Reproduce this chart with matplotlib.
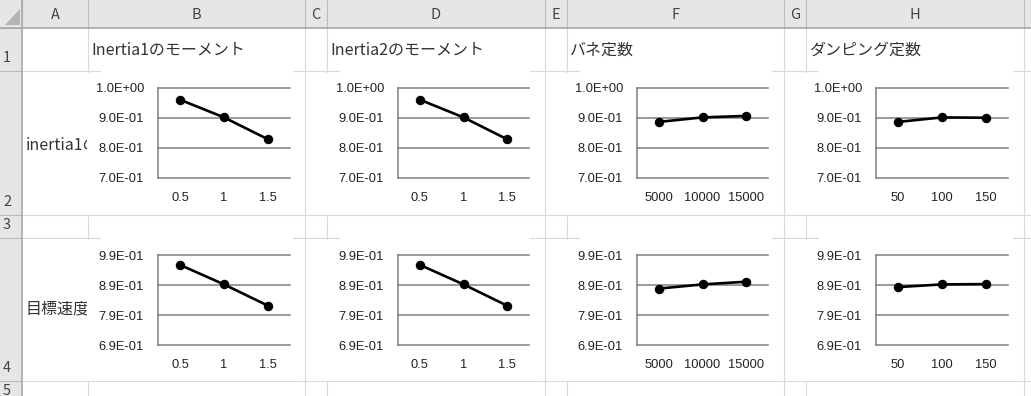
import matplotlib
matplotlib.use('Agg')
import matplotlib.pyplot as plt
from matplotlib.patches import Rectangle, Polygon

W, H = 1031, 396

# sheet layout (pixels)
col_names = ['A', 'B', 'C', 'D', 'E', 'F', 'G', 'H']
col_edges = [22, 88, 305, 327, 545, 567, 784, 806, 1024]
row_names = ['1', '2', '3', '4', '5']
row_edges = [28, 71, 215, 238, 381, 404]

# cell texts
param_titles = ['Inertia1のモーメント', 'Inertia2のモーメント', 'バネ定数', 'ダンピング定数']
row_titles = ['inertia1の', '目標速度']

# x categories of each chart column
inertia_levels = ['0.5', '1', '1.5']
spring_levels = ['5000', '10000', '15000']
damping_levels = ['50', '100', '150']
x_levels = [inertia_levels, inertia_levels, spring_levels, damping_levels]

# row 2 (inertia1) responses
r2_inertia1 = [0.961, 0.902, 0.829]
r2_inertia2 = [0.961, 0.902, 0.829]
r2_spring = [0.887, 0.902, 0.907]
r2_damping = [0.887, 0.902, 0.901]
# row 4 (目標速度) responses
r4_inertia1 = [0.957, 0.892, 0.821]
r4_inertia2 = [0.957, 0.892, 0.821]
r4_spring = [0.878, 0.892, 0.901]
r4_damping = [0.883, 0.892, 0.893]

row2_ticks = [0.70, 0.80, 0.90, 1.00]
row4_ticks = [0.69, 0.79, 0.89, 0.99]

series = [[r2_inertia1, r2_inertia2, r2_spring, r2_damping],
          [r4_inertia1, r4_inertia2, r4_spring, r4_damping]]
yticks = [row2_ticks, row4_ticks]

# chart placement (pixels)
chart_x = [(88, 300), (327, 537), (567, 779), (806, 1020)]
chart_y = [(72, 214), (239, 380)]
plot_x = [(158, 290), (398, 529), (637, 768), (876, 1008)]
plot_y = [(88, 178), (255, 345)]

cjk = ['Noto Sans CJK JP', 'DejaVu Sans']
grid_c = '#dadada'
head_bg = '#e6e6e6'
head_line = '#bcbcbc'

fig = plt.figure(figsize=(W / 100, H / 100), dpi=100)
bg = fig.add_axes([0, 0, 1, 1])
bg.set_xlim(0, W)
bg.set_ylim(H, 0)
bg.axis('off')

# headers
bg.add_patch(Rectangle((0, 0), W, 28, fc=head_bg, ec='none', zorder=1))
bg.add_patch(Rectangle((0, 0), 22, H, fc=head_bg, ec='none', zorder=1))
bg.add_patch(Polygon([(5, 25), (20, 25), (20, 9)], closed=True, fc='#b4b4b4', ec='none', zorder=2))
for i, name in enumerate(col_names):
    x0, x1 = col_edges[i], col_edges[i + 1]
    bg.text((x0 + x1) / 2, 15, name, ha='center', va='center', fontsize=10.5,
            color='#444444', family=cjk, zorder=3)
for x in col_edges:
    bg.plot([x, x], [0, 28], color=head_line, lw=0.8, zorder=2)
for i, name in enumerate(row_names):
    y1 = row_edges[i + 1]
    bg.text(3, y1 - 13, name, ha='left', va='center', fontsize=10.5,
            color='#444444', family=cjk, zorder=3)
for y in row_edges[:-1]:
    bg.plot([0, 22], [y, y], color=head_line, lw=0.8, zorder=2)
bg.plot([0, W], [28, 28], color='#a8a8a8', lw=1.2, zorder=2)
bg.plot([22, 22], [0, H], color='#a8a8a8', lw=1.2, zorder=2)

# cell gridlines
for x in col_edges[1:]:
    bg.plot([x, x], [28, H], color=grid_c, lw=0.8, zorder=1)
for y in row_edges[1:-1]:
    bg.plot([22, W], [y, y], color=grid_c, lw=0.8, zorder=1)

# cell texts
for i, t in enumerate(param_titles):
    bg.text(col_edges[2 * i + 1] + 3, 50, t, ha='left', va='center', fontsize=11.5,
            color='#333333', family=cjk, zorder=3)
clip = Rectangle((22, 71), 65.5, 144, transform=bg.transData)
a2 = bg.text(26, 145, row_titles[0], ha='left', va='center', fontsize=11.5,
             color='#333333', family=cjk, zorder=3)
a2.set_clip_path(clip)
bg.text(26, 309, row_titles[1], ha='left', va='center', fontsize=11.5,
        color='#333333', family=cjk, zorder=3)

# chart backgrounds
for (cy0, cy1) in chart_y:
    for (cx0, cx1) in chart_x:
        bg.add_patch(Rectangle((cx0 + 13, cy0 - 2.5), cx1 - cx0 - 20, 4,
                               fc='white', ec='none', zorder=4))
        bg.add_patch(Rectangle((cx0 - 1, cy0 + 0.5), cx1 - cx0 + 1, cy1 - cy0,
                               fc='white', ec='none', zorder=4))

# charts
tick_font = 'Liberation Sans'
for r in range(2):
    for c in range(4):
        x0, x1 = plot_x[c]
        y0, y1 = plot_y[r]
        ax = fig.add_axes([x0 / W, 1 - y1 / H, (x1 - x0) / W, (y1 - y0) / H])
        ax.set_facecolor('none')
        xs = list(range(len(x_levels[c])))
        ax.plot(xs, series[r][c], color='black', lw=1.9, marker='o', markersize=5.8,
                zorder=3, clip_on=False)
        ax.set_xlim(-0.5, len(xs) - 0.5)
        ax.set_ylim(yticks[r][0], yticks[r][-1])
        ax.set_yticks(yticks[r])
        ax.set_yticklabels([f'{v:.1E}' for v in yticks[r]])
        ax.set_xticks(xs)
        ax.set_xticklabels(x_levels[c])
        for yt in yticks[r]:
            ax.axhline(yt, color='#7f7f7f', lw=1.1, zorder=1, clip_on=False)
        for s in ['top', 'right', 'bottom']:
            ax.spines[s].set_visible(False)
        ax.spines['left'].set_color('#7f7f7f')
        ax.spines['left'].set_linewidth(1.1)
        ax.tick_params(axis='both', length=0, labelsize=9.3, colors='#222222')
        ax.tick_params(axis='y', pad=10)
        ax.tick_params(axis='x', pad=10)
        for lab in ax.get_xticklabels() + ax.get_yticklabels():
            lab.set_family(tick_font)

fig.savefig('out.png', dpi=100)
